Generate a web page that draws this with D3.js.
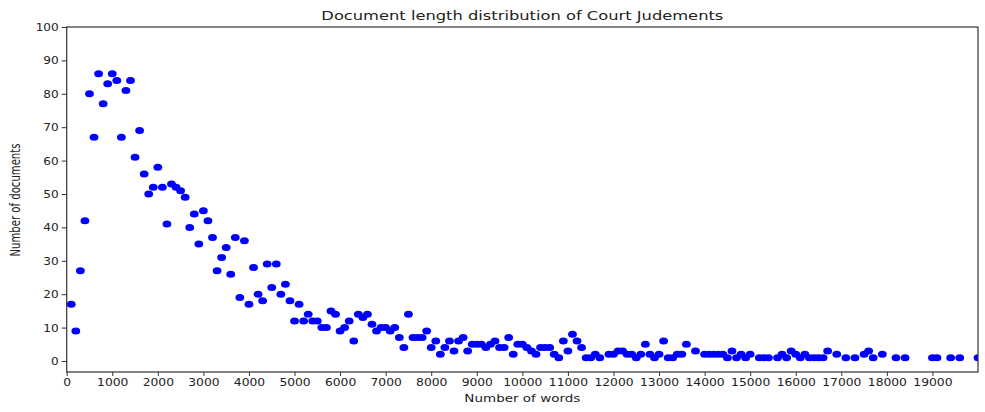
<!DOCTYPE html>
<html>
<head>
<meta charset="utf-8">
<script src="https://cdn.jsdelivr.net/npm/d3@7"></script>
<style>
  html, body { margin: 0; padding: 0; background: #fff; }
  svg { display: block; font-family: "DejaVu Sans", sans-serif; }
</style>
</head>
<body>
<svg id="chart" width="985" height="412"></svg>
<script>
// ---- data ----
const wordCounts = [
  100,200,300,400,500,600,700,800,900,1000,
  1100,1200,1300,1400,1500,1600,1700,1800,1900,2000,
  2100,2200,2300,2400,2500,2600,2700,2800,2900,3000,
  3100,3200,3300,3400,3500,3600,3700,3800,3900,4000,
  4100,4200,4300,4400,4500,4600,4700,4800,4900,5000,
  5100,5200,5300,5400,5500,5600,5700,5800,5900,6000,
  6100,6200,6300,6400,6500,6600,6700,6800,6900,7000,
  7100,7200,7300,7400,7500,7600,7700,7800,7900,8000,
  8100,8200,8300,8400,8500,8600,8700,8800,8900,9000,
  9100,9200,9300,9400,9500,9600,9700,9800,9900,10000,
  10100,10200,10300,10400,10500,10600,10700,10800,10900,11000,
  11100,11200,11300,11400,11500,11600,11700,11900,12000,
  12100,12200,12300,12400,12500,12600,12700,12800,12900,13000,
  13100,13200,13300,13400,13500,13600,13800,14000,
  14100,14200,14300,14400,14500,14600,14700,14800,14900,15000,
  15200,15300,15400,15600,15700,15800,15900,16000,
  16100,16200,16300,16400,16500,16600,16700,16900,
  17100,17300,17500,17600,17700,17900,
  18200,18400,19000,19100,19400,19600,20000
];
const docCounts = [
  17,9,27,42,80,67,86,77,83,86,
  84,67,81,84,61,69,56,50,52,58,
  52,41,53,52,51,49,40,44,35,45,
  42,37,27,31,34,26,37,19,36,17,
  28,20,18,29,22,29,20,23,18,12,
  17,12,14,12,12,10,10,15,14,9,
  10,12,6,14,13,14,11,9,10,10,
  9,10,7,4,14,7,7,7,9,4,
  6,2,4,6,3,6,7,3,5,5,
  5,4,5,6,4,4,7,2,5,5,
  4,3,2,4,4,4,2,1,6,3,
  8,6,4,1,1,2,1,2,2,
  3,3,2,2,1,2,5,2,1,2,
  6,1,1,2,2,5,3,2,
  2,2,2,2,1,3,1,2,1,2,
  1,1,1,1,2,1,3,2,
  1,2,1,1,1,1,3,2,
  1,1,2,3,1,2,
  1,1,1,1,1,1,1
];
const xTickValues = [0,1000,2000,3000,4000,5000,6000,7000,8000,9000,10000,
  11000,12000,13000,14000,15000,16000,17000,18000,19000];
const yTickValues = [0,10,20,30,40,50,60,70,80,90,100];

const titleText = "Document length distribution of Court Judements";
const xLabelText = "Number of words";
const yLabelText = "Number of documents";

// ---- layout ----
const svg = d3.select("#chart");
const pLeft = 66.7, pRight = 978, pTop = 27, pBottom = 372;
const textColor = "#222";
const axisColor = "#333";

const x = d3.scaleLinear().domain([0, 20000]).range([pLeft, pRight]);
const y = d3.scaleLinear().domain([-3.3, 100]).range([pBottom, pTop]);

svg.append("defs").append("clipPath").attr("id", "plotclip")
  .append("rect").attr("x", pLeft).attr("y", pTop)
  .attr("width", pRight - pLeft).attr("height", pBottom - pTop);

// points
const pts = d3.range(wordCounts.length).map(i => ({wx: wordCounts[i], dc: docCounts[i]}));
svg.append("g").attr("clip-path", "url(#plotclip)")
  .selectAll("ellipse").data(pts).enter().append("ellipse")
  .attr("cx", d => x(d.wx)).attr("cy", d => y(d.dc))
  .attr("rx", 4.4).attr("ry", 3.5)
  .attr("fill", "#0000ff");

// axes
const xAxis = d3.axisBottom(x).tickValues(xTickValues).tickFormat(d3.format("d"))
  .tickSizeInner(4).tickSizeOuter(0).tickPadding(2);
const yAxis = d3.axisLeft(y).tickValues(yTickValues).tickFormat(d3.format("d"))
  .tickSizeInner(5).tickSizeOuter(0).tickPadding(3);

const gx = svg.append("g").attr("transform", `translate(0,${pBottom})`).call(xAxis);
const gy = svg.append("g").attr("transform", `translate(${pLeft},0)`).call(yAxis);

[gx, gy].forEach(g => {
  g.select(".domain").remove();
  g.selectAll(".tick line").attr("stroke", axisColor).attr("stroke-width", 1);
  g.selectAll(".tick text").attr("fill", textColor)
    .style("font-family", "DejaVu Sans, sans-serif").style("font-size", "11px");
});
// horizontal stretch of tick labels, anchored where each label is anchored
gx.selectAll(".tick text").attr("transform", "scale(1.12,1)");
gy.selectAll(".tick text").each(function() {
  const ax = +d3.select(this).attr("x");
  d3.select(this).attr("transform", `translate(${ax},0) scale(1.1,1) translate(${-ax},0)`);
});

// frame
svg.append("rect").attr("x", pLeft).attr("y", pTop)
  .attr("width", pRight - pLeft).attr("height", pBottom - pTop)
  .attr("fill", "none").attr("stroke", axisColor).attr("stroke-width", 1.2);

// title
svg.append("text").attr("x", (pLeft + pRight) / 2).attr("y", 20)
  .attr("text-anchor", "middle").attr("fill", textColor)
  .style("font-size", "13px")
  .attr("textLength", 402).attr("lengthAdjust", "spacingAndGlyphs")
  .text(titleText);

// x label
svg.append("text").attr("x", (pLeft + pRight) / 2).attr("y", 402)
  .attr("text-anchor", "middle").attr("fill", textColor)
  .style("font-size", "11px")
  .attr("textLength", 116).attr("lengthAdjust", "spacingAndGlyphs")
  .text(xLabelText);

// y label
svg.append("g").attr("transform", "translate(20,200) scale(1.3,1) rotate(-90)")
  .append("text").attr("x", 0).attr("y", 0)
  .attr("text-anchor", "middle").attr("fill", textColor)
  .style("font-size", "10.5px")
  .attr("textLength", 113).attr("lengthAdjust", "spacingAndGlyphs")
  .text(yLabelText);
</script>
</body>
</html>
